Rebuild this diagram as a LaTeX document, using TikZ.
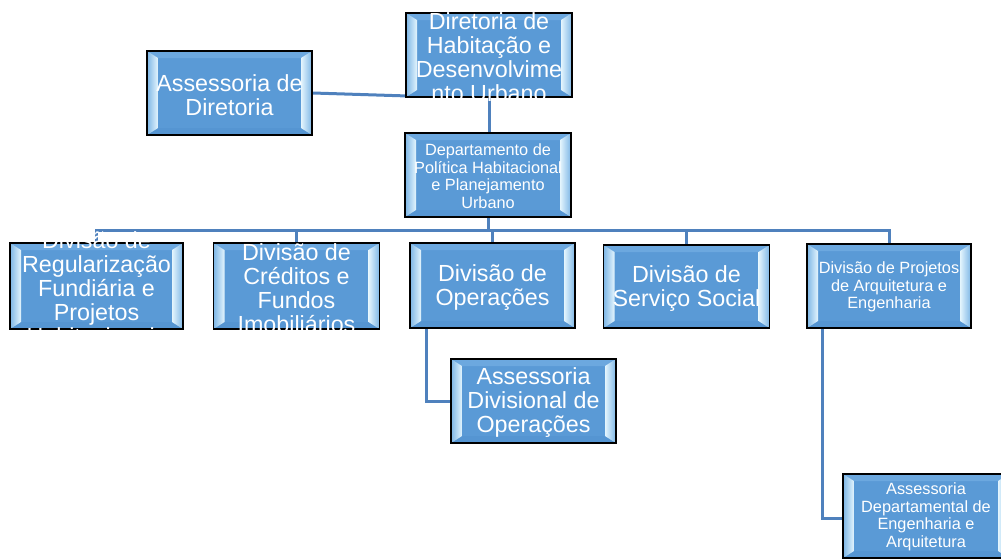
\documentclass[tikz,border=0pt]{standalone}
\usepackage{fontspec}
\setmainfont{Liberation Sans}
\usetikzlibrary{calc}
\definecolor{basec}{HTML}{5A9AD6}
\definecolor{bevtop}{HTML}{6CA8DF}
\definecolor{bevbot}{HTML}{5595D2}
\definecolor{bevout}{HTML}{7DB6E6}
\definecolor{bevin}{HTML}{E4F5FD}
\definecolor{linec}{HTML}{4F81BD}
\newcommand{\orgbigtxt}{\fontsize{23.3pt}{24pt}\selectfont}
\newcommand{\orgsmalltxt}{\fontsize{16.3pt}{17.5pt}\selectfont}
\pgfdeclarelayer{bg}
\pgfsetlayers{bg,main}
\tikzset{
  orgbox/.style={rectangle, draw=black, line width=1.8pt, fill=basec, inner sep=0pt,
    minimum width=166pt, minimum height=84pt,
    path picture={
      \fill[bevtop] let \p1=(path picture bounding box.south west), \p2=(path picture bounding box.north east) in
        (\x1,\y2) -- (\x2,\y2) -- (\x2-11pt,\y2-7pt) -- (\x1+11pt,\y2-7pt) -- cycle;
      \fill[bevbot] let \p1=(path picture bounding box.south west), \p2=(path picture bounding box.north east) in
        (\x1,\y1) -- (\x2,\y1) -- (\x2-11pt,\y1+7pt) -- (\x1+11pt,\y1+7pt) -- cycle;
      \path[left color=bevout, right color=bevin] let \p1=(path picture bounding box.south west), \p2=(path picture bounding box.north east) in
        (\x1,\y1) -- (\x1+11pt,\y1+7pt) -- (\x1+11pt,\y2-7pt) -- (\x1,\y2) -- cycle;
      \path[left color=bevin, right color=bevout] let \p1=(path picture bounding box.south west), \p2=(path picture bounding box.north east) in
        (\x2,\y1) -- (\x2-11pt,\y1+7pt) -- (\x2-11pt,\y2-7pt) -- (\x2,\y2) -- cycle;
    }},
  bigtext/.style={text=white, align=center, inner sep=0pt, font=\orgbigtxt, yshift=-2pt},
  smalltext/.style={text=white, align=center, inner sep=0pt, font=\orgsmalltxt, yshift=-1pt},
  conn/.style={draw=linec, line width=3pt},
}
\begin{document}
\begin{tikzpicture}[x=1pt, y=-1pt]
\useasboundingbox (0,0) rectangle (1001,558);
% boxes
\node[orgbox] (dir) at (489,55) {};
\node[orgbox, minimum width=165pt] (adir) at (229.5,93) {};
\node[orgbox] (dep) at (488,175) {};
\node[orgbox, minimum width=173pt, minimum height=86pt] (reg) at (96.5,286) {};
\node[orgbox, minimum height=86pt] (cred) at (296.5,286) {};
\node[orgbox, minimum width=165pt, minimum height=85pt] (ope) at (492.5,285.5) {};
\node[orgbox, minimum height=83pt] (serv) at (686.5,286.5) {};
\node[orgbox, minimum width=164pt] (proj) at (889,286) {};
\node[orgbox, minimum width=165pt] (adiv) at (533.5,401) {};
\node[orgbox] (adep) at (926,516) {};
% connectors
\coordinate (bus) at (490,230);
\begin{pgfonlayer}{bg}
\draw[conn] (adir.east) -- ([yshift=2pt]dir.south west);
\draw[conn] (dir.south) -- (dir.south |- dep.north);
\draw[conn] (dep.south) -- (dep.south |- bus);
\draw[conn] (reg.north) |- (bus) -| (proj.north);
\draw[conn] (cred.north) -- (cred.north |- bus);
\draw[conn] (ope.north) -- (ope.north |- bus);
\draw[conn] (serv.north) -- (serv.north |- bus);
\draw[conn] ([xshift=17pt]ope.south west) |- (adiv.west);
\draw[conn] ([xshift=16pt]proj.south west) |- ([yshift=-2pt]adep.west);
\end{pgfonlayer}
% texts
\node[bigtext] (t-dir) at (dir) {Diretoria de\\Habitação e\\Desenvolvime\\nto Urbano};
\node[bigtext] (t-adir) at (adir) {Assessoria de\\Diretoria};
\node[smalltext] (t-dep) at (dep) {Departamento de\\Política Habitacional\\e Planejamento\\Urbano};
\node[bigtext] (t-reg) at (reg) {Divisão de\\Regularização\\Fundiária e\\Projetos\\Habitacionais};
\node[bigtext] (t-cred) at (cred) {Divisão de\\Créditos e\\Fundos\\Imobiliários};
\node[bigtext] (t-ope) at (ope) {Divisão de\\Operações};
\node[bigtext] (t-serv) at (serv) {Divisão de\\Serviço Social};
\node[smalltext] (t-proj) at (proj) {Divisão de Projetos\\de Arquitetura e\\Engenharia};
\node[bigtext] (t-adiv) at (adiv) {Assessoria\\Divisional de\\Operações};
\node[smalltext] (t-adep) at (adep) {Assessoria\\Departamental de\\Engenharia e\\Arquitetura};
\end{tikzpicture}
\end{document}
